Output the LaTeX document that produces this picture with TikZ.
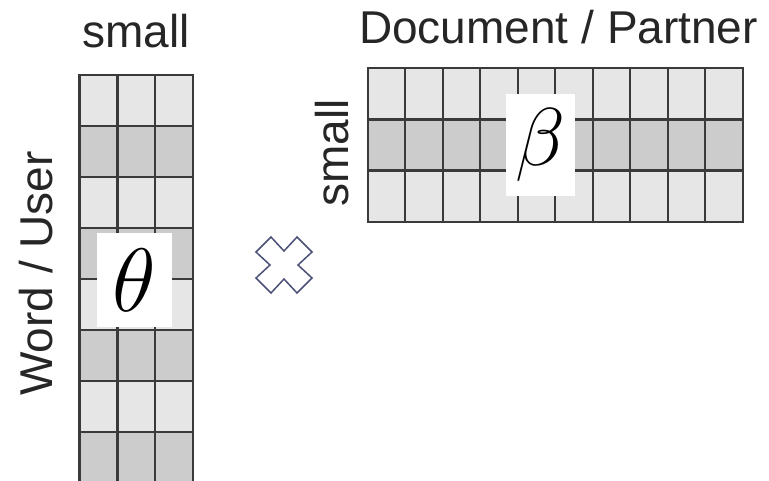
\RequirePackage{fix-cm}
\documentclass[tikz,border=0pt]{standalone}
\usepackage{fontspec}
\setmainfont{Liberation Sans}
\usetikzlibrary{positioning}

\definecolor{gridline}{HTML}{3A3A3A}
\definecolor{lightcell}{HTML}{E6E6E6}
\definecolor{darkcell}{HTML}{CCCCCC}
\definecolor{timescol}{HTML}{4B5078}

\begin{document}
\begin{tikzpicture}[
        x=1pt, y=-1pt,
        cell/.style={draw=gridline, line width=2.2pt, line cap=rect},
        lbl/.style={font=\fontsize{46}{50}\selectfont, text=black!85, inner sep=0pt},
        sym/.style={fill=white, inner sep=0pt},
    ]
        \clip (0,0) rectangle (769,480);

        % left matrix (theta)
        \def\lx{79.5}
        \def\lw{37.9}
        \def\ly{75}
        \def\lh{51}

        \foreach \r/\col in {0/lightcell,1/darkcell,2/lightcell,3/darkcell,
                             4/lightcell,5/darkcell,6/lightcell,7/darkcell}{
            \fill[\col] (\lx,{\ly+\r*\lh}) rectangle ({\lx+3*\lw},{\ly+(\r+1)*\lh});
        }
        \foreach \c in {0,...,3}
            \draw[cell] ({\lx+\c*\lw},\ly) -- ({\lx+\c*\lw},495);
        \foreach \r in {0,...,8}
            \draw[cell] (\lx,{\ly+\r*\lh}) -- ({\lx+3*\lw},{\ly+\r*\lh});

        \node[sym, minimum width=75pt, minimum height=94pt] (theta) at (134.5,280)
            {\fontsize{90}{90}\selectfont$\theta$};

        % right matrix (beta)
        \def\rx{367.7}
        \def\rw{37.5}
        \def\ry{68.3}
        \def\rh{51.1}

        \foreach \r/\col in {0/lightcell,1/darkcell,2/lightcell}{
            \fill[\col] (\rx,{\ry+\r*\rh}) rectangle ({\rx+10*\rw},{\ry+(\r+1)*\rh});
        }
        \foreach \c in {0,...,10}
            \draw[cell] ({\rx+\c*\rw},\ry) -- ({\rx+\c*\rw},{\ry+3*\rh});
        \foreach \r in {0,...,3}
            \draw[cell] (\rx,{\ry+\r*\rh}) -- ({\rx+10*\rw},{\ry+\r*\rh});

        \node[sym, minimum width=69pt, minimum height=102pt] (beta) at (540.5,144.5)
            {\fontsize{82}{82}\selectfont$\beta$};

        % times sign
        \begin{scope}[shift={(284,265)}]
            \draw[timescol, line width=1.5pt, line join=miter]
                (-13,-28) -- (0,-14) -- (13,-28) -- (28,-13) -- (14,0) -- (28,13)
                -- (13,28) -- (0,14) -- (-13,28) -- (-28,13) -- (-14,0) -- (-28,-13) -- cycle;
        \end{scope}

        % labels
        \node[lbl, anchor=base] (rowsmall) at (136,47) {small};
        \node[lbl, anchor=base] (colname) at (558.5,43) {Document / Partner};
        \node[lbl, anchor=base, rotate=90] (rowname) at (52,273.5) {Word / User};
        \node[lbl, anchor=base, rotate=90] (colsmall) at (348,153) {small};

    \end{tikzpicture}
\end{document}
